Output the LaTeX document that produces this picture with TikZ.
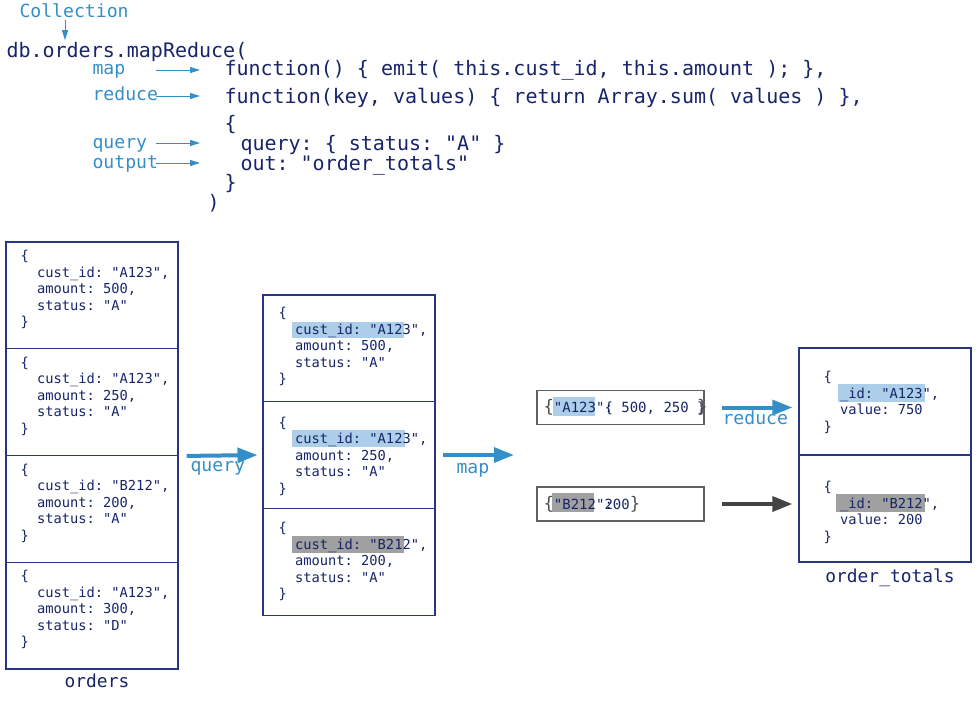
\documentclass[tikz,border=0pt]{standalone}
\usepackage{fontspec}
\setmonofont{DejaVu Sans Mono}[WordSpace={1,0,0},PunctuationSpace=WordSpace]
\renewcommand{\familydefault}{\ttdefault}
\usetikzlibrary{arrows.meta}

\definecolor{navy}{RGB}{24,36,104}
\definecolor{boxline}{RGB}{40,52,132}
\definecolor{mblue}{RGB}{52,143,200}
\definecolor{hlblue}{RGB}{172,206,232}
\definecolor{hlgray}{RGB}{160,160,160}
\definecolor{darkarrow}{RGB}{68,68,68}
\definecolor{kvline}{RGB}{96,96,96}
\definecolor{kvbrace}{RGB}{80,80,80}

\newcommand{\ind}{\hphantom{xx}}
\newcommand{\bigbrace}[1]{{\color{kvbrace}\fontsize{13}{13}\selectfont#1}}

\tikzset{every picture/.style={line width=0.75pt}}
\tikzset{
  code/.style={anchor=west, inner sep=0pt, text height=11.25pt, text depth=0.75pt, text=navy, font=\fontsize{15}{18}\selectfont},
  tag/.style={anchor=west, inner sep=0pt, text height=10.2pt, text depth=0.7pt, text=mblue, font=\fontsize{13.6}{16}\selectfont},
  title/.style={inner sep=0pt, text height=10pt, text depth=0.7pt, text=navy, font=\fontsize{13.4}{16}\selectfont},
  doc/.style={anchor=west, inner sep=0pt, text=navy, align=left, font=\fontsize{10.3}{12.4}\selectfont},
  docbox/.style={draw=boxline, line width=0.8pt, minimum width=129pt, inner sep=0pt},
  kvbox/.style={draw=kvline, line width=0.8pt, minimum width=125.25pt, minimum height=25.5pt, inner sep=0pt},
  kvtext/.style={anchor=west, inner sep=0pt, text=navy, font=\fontsize{10.5}{12}\selectfont},
  thinarr/.style={draw=mblue, line width=0.75pt, -{Triangle[length=7.5pt,width=4.5pt]}},
  flow/.style={draw=mblue, line width=3pt, -{Triangle[length=15pt,width=11pt]}},
  darkflow/.style={draw=darkarrow, line width=3pt, -{Triangle[length=15pt,width=11pt]}}
}

\begin{document}
\begin{tikzpicture}[x=0.75pt,y=0.75pt,yscale=-1,xscale=1]
	\useasboundingbox (0,0) rectangle (980,700);

	% Text Node
	\node[tag] (tcoll) at (19,11) {Collection};
	% Text Node
	\node[code] (dbcall) at (6,50) {db.orders.mapReduce(};
	% Text Node
	\node[tag] (tmap) at (92,68) {map};
	% Text Node
	\node[tag] (treduce) at (92,94) {reduce};
	% Text Node
	\node[tag] (tquery) at (92,142) {query};
	% Text Node
	\node[tag] (toutput) at (92,162) {output};
	% Text Node
	\node[code] (fmap) at (224,68) {function() \{ emit( this.cust\_id, this.amount ); \},};
	% Text Node
	\node[code] (freduce) at (224,96) {function(key, values) \{ return Array.sum( values ) \},};
	% Text Node
	\node[code] (fopen) at (224,123) {\{};
	% Text Node
	\node[code] (fquery) at (240,143) {query: \{ status: "A" \}};
	% Text Node
	\node[code] (fout) at (240,163) {out: "order\_totals"};
	% Text Node
	\node[code] (fclose) at (224,182) {\}};
	% Text Node
	\node[code] (fend) at (207,202) {)};

	% Arrows to the code
	\coordinate (collfrom) at (65,20);
	\coordinate (mapfrom) at (156,70);
	\coordinate (reducefrom) at (156,96);
	\coordinate (queryfrom) at (156,143);
	\coordinate (outfrom) at (156,163);
	\draw[thinarr, shorten >=1pt] (collfrom) -- (collfrom |- dbcall.north);
	\draw[thinarr, shorten >=18pt] (mapfrom) -- (mapfrom -| fmap.west);
	\draw[thinarr, shorten >=18pt] (reducefrom) -- (reducefrom -| freduce.west);
	\draw[thinarr, shorten >=18pt] (queryfrom) -- (queryfrom -| fopen.west);
	\draw[thinarr, shorten >=18pt] (outfrom) -- (outfrom -| fopen.west);

	%Shape: Rectangle (orders)
	\node[docbox, minimum height=80.06pt] (o1) at (92,295.4) {};
	\node[docbox, minimum height=80.06pt] (o2) at (92,402.1) {};
	\node[docbox, minimum height=80.06pt] (o3) at (92,508.9) {};
	\node[docbox, minimum height=80.06pt] (o4) at (92,615.6) {};
	% Text Node
	\node[doc] (d1) at (20,289.5) {\{\\\ind cust\_id: "A123",\\\ind amount: 500,\\\ind status: "A"\\\}};
	\node[doc] (d2) at (20,396.3) {\{\\\ind cust\_id: "A123",\\\ind amount: 250,\\\ind status: "A"\\\}};
	\node[doc] (d3) at (20,503) {\{\\\ind cust\_id: "B212",\\\ind amount: 200,\\\ind status: "A"\\\}};
	\node[doc] (d4) at (20,609.8) {\{\\\ind cust\_id: "A123",\\\ind amount: 300,\\\ind status: "D"\\\}};
	\node[title] (torders) at (97,681) {orders};

	%Shape: Rectangle (query result)
	\fill[hlblue] (292,322) rectangle (404,338);
	\fill[hlblue] (292,430) rectangle (405,447);
	\fill[hlgray] (292,536) rectangle (404,553);
	\node[docbox, minimum height=80pt] (q1) at (349,348.3) {};
	\node[docbox, minimum height=80pt] (q2) at (349,455) {};
	\node[docbox, minimum height=80pt] (q3) at (349,561.7) {};
	% Text Node
	\node[doc] (e1) at (278,346.5) {\{\\\ind cust\_id: "A123",\\\ind amount: 500,\\\ind status: "A"\\\}};
	\node[doc] (e2) at (278,456) {\{\\\ind cust\_id: "A123",\\\ind amount: 250,\\\ind status: "A"\\\}};
	\node[doc] (e3) at (278,561.5) {\{\\\ind cust\_id: "B212",\\\ind amount: 200,\\\ind status: "A"\\\}};

	%Shape: Rectangle (emitted pairs)
	\fill[hlblue] (553,397) rectangle (595,416);
	\fill[hlgray] (552,493) rectangle (594,512);
	\node[kvbox] (kv1) at (620.5,407.5) {};
	\node[kvbox] (kv2) at (620.5,504) {};
	\node[kvtext] (kvt1) at (543,407.5) {\bigbrace{\{}"A123"\rlap{:}\{ 500, 250 \rlap{\}}\bigbrace{\}}};
	\node[kvtext] (kvt2) at (543,504) {\bigbrace{\{}"B212"\rlap{:}200\bigbrace{\}}};
	\coordinate (mapend) at (514,455);

	%Shape: Rectangle (order_totals)
	\fill[hlblue] (838,384) rectangle (925,402);
	\fill[hlgray] (836,494) rectangle (925,512);
	\node[docbox, minimum height=80.25pt] (t1) at (885,401.5) {};
	\node[docbox, minimum height=80.25pt] (t2) at (885,508.5) {};
	% Text Node
	\node[doc] (g1) at (823,402.5) {\{\\\ind \_id: "A123",\\\ind value: 750\\\}};
	\node[doc] (g2) at (823,512.5) {\{\\\ind \_id: "B212",\\\ind value: 200\\\}};
	\node[title] (ttotals) at (890,576) {order\_totals};

	% Stage arrows
	\draw[flow, shorten <=6pt, shorten >=3.75pt] (o2.south east) -- (q2.west);
	\draw[flow, shorten <=5.25pt] (q2.east) -- (mapend);
	\draw[flow, shorten <=12.75pt, shorten >=4.5pt] (kv1.east) -- (kv1.east -| t1.west);
	\draw[darkflow, shorten <=12.75pt, shorten >=4.5pt] (kv2.east) -- (kv2.east -| t2.west);
	% Text Node
	\node[tag] (tq) at (190,465) {query};
	\node[tag] (tm) at (456,467) {map};
	\node[tag] (tr) at (722,418) {reduce};

\end{tikzpicture}
\end{document}
